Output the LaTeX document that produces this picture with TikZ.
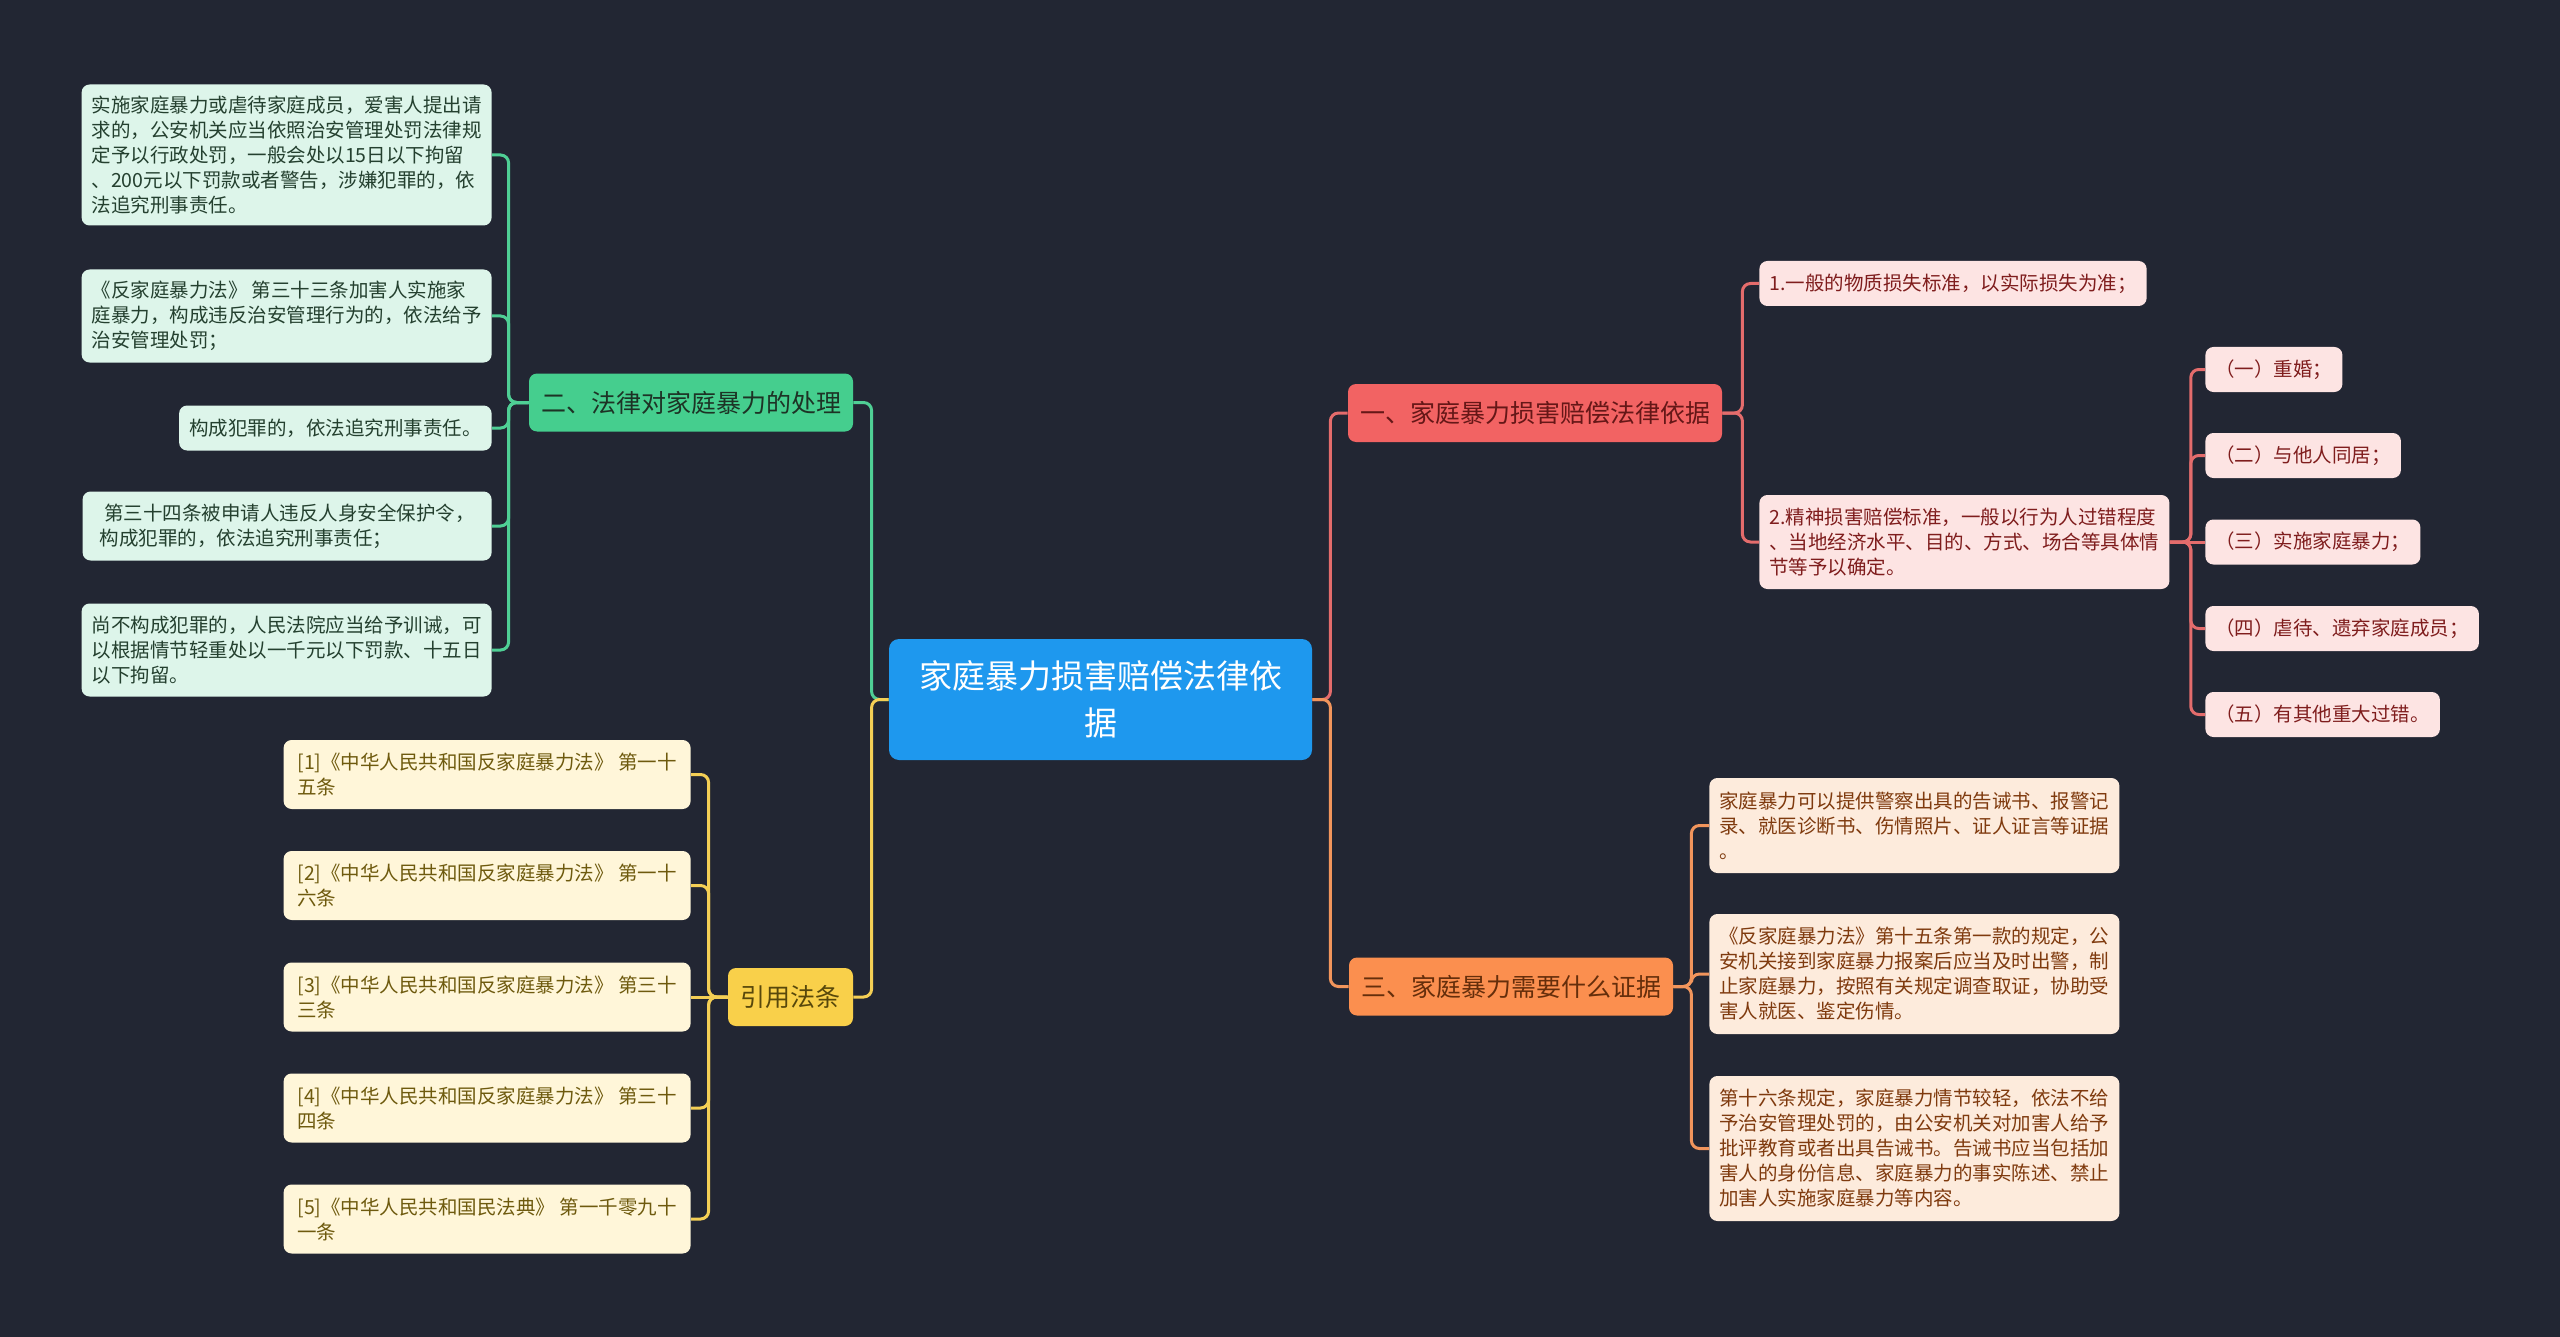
\documentclass[tikz,border=0pt]{standalone}
\usepackage{fontspec}
\setmainfont{Noto Sans CJK SC}
\usepackage{xcolor}
\usepackage{tikz}
\usetikzlibrary{positioning}

\definecolor{bgdark}{HTML}{222633}
\definecolor{rootblue}{HTML}{1E98EE}
\definecolor{gtopic}{HTML}{45CE8E}
\definecolor{gleaf}{HTML}{DDF5EA}
\definecolor{gtext}{HTML}{24402F}
\definecolor{gline}{HTML}{4FCF95}
\definecolor{rtopic}{HTML}{F26363}
\definecolor{rleaf}{HTML}{FDE4E3}
\definecolor{rtext}{HTML}{7F1D1D}
\definecolor{rline}{HTML}{E46C6C}
\definecolor{ytopic}{HTML}{F9D04A}
\definecolor{yleaf}{HTML}{FFF6D9}
\definecolor{ytext}{HTML}{6E5A0E}
\definecolor{yline}{HTML}{F4CF55}
\definecolor{otopic}{HTML}{FB8F4F}
\definecolor{oleaf}{HTML}{FDEBDC}
\definecolor{otext}{HTML}{7F3A0E}
\definecolor{oline}{HTML}{F2955C}

\begin{document}
\begin{tikzpicture}[
    x=0.5pt,y=-0.5pt,
    root/.style={fill=rootblue,text=white,rounded corners=5pt,align=center,font=\fontsize{16.5}{23.5}\selectfont,minimum width=211.5pt,minimum height=60.5pt},
    topic/.style={fill=#1topic,text=#1text!80!black,rounded corners=4pt,font=\fontsize{12.5}{15}\selectfont,minimum height=29pt,inner xsep=5pt},
    leaf/.style={fill=#1leaf,text=#1text,rounded corners=4pt,align=left,font=\fontsize{9.75}{12.5}\selectfont,inner xsep=5pt,inner ysep=0pt,minimum height=22.5pt},
    link/.style={draw=#1line,line width=1.5pt,rounded corners=4pt}
  ]
    \useasboundingbox (0,0) rectangle (2560,1337);
    \fill[bgdark] (0,0) rectangle (2560,1337);

    \node[root] (root) at (1100.5,699.5) {家庭暴力损害赔偿法律依\\据};

    % left: handling
    \node[topic=g,minimum width=162pt] (hdl) at (691,402.5) {二、法律对家庭暴力的处理};
    \node[leaf=g,anchor=east,minimum width=204.5pt,minimum height=70.5pt] (hdl1) at (492,155) {实施家庭暴力或虐待家庭成员，爱害人提出请\\求的，公安机关应当依照治安管理处罚法律规\\定予以行政处罚，一般会处以15日以下拘留\\、200元以下罚款或者警告，涉嫌犯罪的，依\\法追究刑事责任。};
    \node[leaf=g,anchor=east,minimum width=204.5pt,minimum height=46.5pt] (hdl2) at (492,316) {《反家庭暴力法》 第三十三条加害人实施家\\庭暴力，构成违反治安管理行为的，依法给予\\治安管理处罚；};
    \node[leaf=g,anchor=east,minimum width=155.5pt] (hdl3) at (492,428) {构成犯罪的，依法追究刑事责任。};
    \node[leaf=g,anchor=east,minimum width=204.5pt,minimum height=34.5pt] (hdl4) at (492,526) {\ 第三十四条被申请人违反人身安全保护令，\\构成犯罪的，依法追究刑事责任；};
    \node[leaf=g,anchor=east,minimum width=204.5pt,minimum height=46.5pt] (hdl5) at (492,650) {尚不构成犯罪的，人民法院应当给予训诫，可\\以根据情节轻重处以一千元以下罚款、十五日\\以下拘留。};

    % left: cited articles
    \node[topic=y,minimum width=62.5pt] (cite) at (790.5,997) {引用法条};
    \node[leaf=y,anchor=east,minimum width=203.5pt,minimum height=34.5pt] (cite1) at (691,774.5) {[1]《中华人民共和国反家庭暴力法》 第一十\\五条};
    \node[leaf=y,anchor=east,minimum width=203.5pt,minimum height=34.5pt] (cite2) at (691,885.5) {[2]《中华人民共和国反家庭暴力法》 第一十\\六条};
    \node[leaf=y,anchor=east,minimum width=203.5pt,minimum height=34.5pt] (cite3) at (691,997) {[3]《中华人民共和国反家庭暴力法》 第三十\\三条};
    \node[leaf=y,anchor=east,minimum width=203.5pt,minimum height=34.5pt] (cite4) at (691,1108) {[4]《中华人民共和国反家庭暴力法》 第三十\\四条};
    \node[leaf=y,anchor=east,minimum width=203.5pt,minimum height=34.5pt] (cite5) at (691,1219) {[5]《中华人民共和国民法典》 第一千零九十\\一条};

    % right: compensation basis
    \node[topic=r,minimum width=187pt] (basis) at (1535,413) {一、家庭暴力损害赔偿法律依据};
    \node[leaf=r,anchor=west,minimum width=192.5pt] (basis1) at (1759,283.5) {1.一般的物质损失标准，以实际损失为准；};
    \node[leaf=r,anchor=west,minimum width=204pt,minimum height=47pt] (basis2) at (1759,542) {2.精神损害赔偿标准，一般以行为人过错程度\\、当地经济水平、目的、方式、场合等具体情\\节等予以确定。};
    \node[leaf=r,anchor=west,minimum width=67pt] (fault1) at (2205,369.5) {（一）重婚；};
    \node[leaf=r,anchor=west,minimum width=96pt] (fault2) at (2205,455.5) {（二）与他人同居；};
    \node[leaf=r,anchor=west,minimum width=106pt] (fault3) at (2205,542) {（三）实施家庭暴力；};
    \node[leaf=r,anchor=west,minimum width=135pt] (fault4) at (2205,628.5) {（四）虐待、遗弃家庭成员；};
    \node[leaf=r,anchor=west,minimum width=115.5pt] (fault5) at (2205,714.5) {（五）有其他重大过错。};

    % right: evidence
    \node[topic=o,minimum width=162pt] (proof) at (1511,986.5) {三、家庭暴力需要什么证据};
    \node[leaf=o,anchor=west,minimum width=204pt,minimum height=47.5pt] (proof1) at (1709,825.5) {家庭暴力可以提供警察出具的告诫书、报警记\\录、就医诊断书、伤情照片、证人证言等证据\\。};
    \node[leaf=o,anchor=west,minimum width=204pt,minimum height=60pt] (proof2) at (1709,974) {《反家庭暴力法》第十五条第一款的规定，公\\安机关接到家庭暴力报案后应当及时出警，制\\止家庭暴力，按照有关规定调查取证，协助受\\害人就医、鉴定伤情。};
    \node[leaf=o,anchor=west,minimum width=204pt,minimum height=72.5pt] (proof3) at (1709,1148.5) {第十六条规定，家庭暴力情节较轻，依法不给\\予治安管理处罚的，由公安机关对加害人给予\\批评教育或者出具告诫书。告诫书应当包括加\\害人的身份信息、家庭暴力的事实陈述、禁止\\加害人实施家庭暴力等内容。};

    \draw[link=g] (root.west) -- ++(-17,0) |- (hdl.east);
    \draw[link=y] (root.west) -- ++(-17,0) |- (cite.east);
    \draw[link=r] (root.east) -- ++(18,0) |- (basis.west);
    \draw[link=o] (root.east) -- ++(18,0) |- (proof.west);

    \draw[link=g] (hdl.west) -- ++(-20,0) |- (hdl1.east);
    \draw[link=g] (hdl.west) -- ++(-20,0) |- (hdl2.east);
    \draw[link=g] (hdl.west) -- ++(-20,0) |- (hdl3.east);
    \draw[link=g] (hdl.west) -- ++(-20,0) |- (hdl4.east);
    \draw[link=g] (hdl.west) -- ++(-20,0) |- (hdl5.east);

    \draw[link=y] (cite.west) -- ++(-19,0) |- (cite1.east);
    \draw[link=y] (cite.west) -- ++(-19,0) |- (cite2.east);
    \draw[link=y] (cite.west) -- (cite3.east);
    \draw[link=y] (cite.west) -- ++(-19,0) |- (cite4.east);
    \draw[link=y] (cite.west) -- ++(-19,0) |- (cite5.east);

    \draw[link=r] (basis.east) -- ++(20,0) |- (basis1.west);
    \draw[link=r] (basis.east) -- ++(20,0) |- (basis2.west);
    \draw[link=r] (basis2.east) -- ++(21,0) |- (fault1.west);
    \draw[link=r] (basis2.east) -- ++(21,0) |- (fault2.west);
    \draw[link=r] (basis2.east) -- (fault3.west);
    \draw[link=r] (basis2.east) -- ++(21,0) |- (fault4.west);
    \draw[link=r] (basis2.east) -- ++(21,0) |- (fault5.west);

    \draw[link=o] (proof.east) -- ++(18,0) |- (proof1.west);
    \draw[link=o] (proof.east) -- ++(18,0) |- (proof2.west);
    \draw[link=o] (proof.east) -- ++(18,0) |- (proof3.west);
  \end{tikzpicture}
\end{document}
